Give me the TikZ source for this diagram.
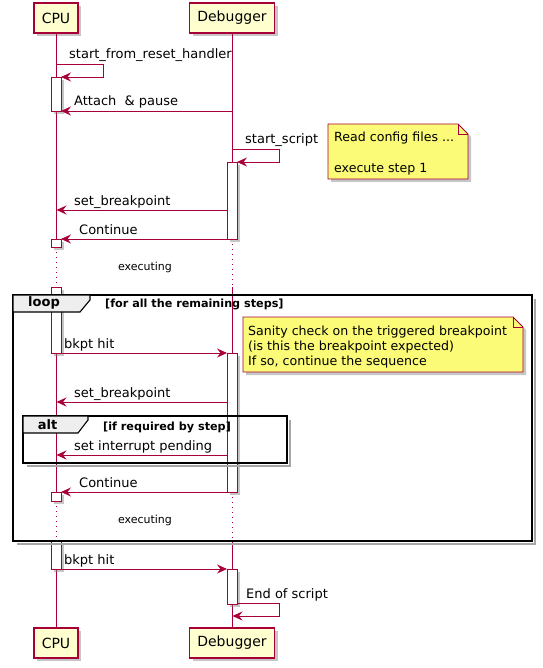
\documentclass[tikz,border=0pt]{standalone}
\usepackage{fontspec}
\setmainfont{DejaVu Sans}
\usetikzlibrary{positioning, arrows.meta, shadows, calc}
\definecolor{umlred}{HTML}{A80036}
\definecolor{partfill}{HTML}{FEFECE}
\definecolor{notefill}{HTML}{FBFB77}
\definecolor{grpfill}{HTML}{EEEEEE}

\tikzset{
	shade3/.style={drop shadow={shadow xshift=3pt, shadow yshift=-3pt, fill=black!50, opacity=0.45}},
	part/.style={draw=umlred, fill=partfill, line width=1.2pt, minimum height=30pt, inner sep=0pt, font=\fontsize{14}{16}\selectfont, shade3},
	life/.style={draw=umlred, line width=0.8pt},
	idle/.style={life, dash pattern=on 1pt off 4pt},
	act/.style={draw=umlred, fill=white, line width=0.8pt, shade3},
	msg/.style={draw=umlred, line width=0.8pt, -{Stealth[length=10pt, width=9pt, inset=3.5pt]}},
	lbl/.style={anchor=base west, inner sep=0pt, font=\fontsize{13}{15}\selectfont},
	notetxt/.style={lbl, font=\fontsize{12.6}{15}\selectfont},
	delay/.style={inner sep=0pt, font=\fontsize{11}{13}\selectfont},
	grp/.style={draw=black, line width=1.4pt},
	grptab/.style={draw=black, fill=grpfill, line width=1.1pt},
	grpname/.style={inner sep=0pt, font=\bfseries\fontsize{13}{15}\selectfont},
	guard/.style={anchor=base west, inner sep=0pt, font=\bfseries\fontsize{11.2}{13}\selectfont},
	notebox/.style={draw=umlred, fill=notefill, line width=0.8pt, shade3}
}

\begin{document}
\begin{tikzpicture}[x=1pt, y=-1pt]
	\useasboundingbox (0,0) rectangle (542,668);

	% participants
	\node[part, minimum width=44pt] (cpuTop) at (56,18) {CPU};
	\node[part, minimum width=85pt] (dbgTop) at (232,18) {Debugger};
	\node[part, minimum width=44pt] (cpuBot) at (56,643) {CPU};
	\node[part, minimum width=85pt] (dbgBot) at (232,643) {Debugger};

	% lifelines, dotted while waiting
	\coordinate (cpuW1) at (56,247); \coordinate (cpuR1) at (56,287);
	\coordinate (cpuW2) at (56,501); \coordinate (cpuR2) at (56,541);
	\coordinate (dbgW1) at (232,239); \coordinate (dbgR1) at (232,287);
	\coordinate (dbgW2) at (232,492); \coordinate (dbgR2) at (232,541);
	\foreach \p in {cpu, dbg}
	{
		\draw[life] (\p Top) -- (\p W1);
		\draw[idle] (\p W1) -- (\p R1);
		\draw[life] (\p R1) -- (\p W2);
		\draw[idle] (\p W2) -- (\p R2);
		\draw[life] (\p R2) -- (\p Bot);
	}
	\node[delay] (wait1) at (145,267) {executing};
	\node[delay] (wait2) at (145,520) {executing};

	% activations
	\foreach \x/\ya/\yb in {51/77/111, 51/239/247, 51/287/353, 51/492/501, 51/541/569,
		227/162/239, 227/353/492, 227/569/604}
		\draw[act] (\x,\ya) rectangle (\x+10,\yb);

	% loop frame
	\draw[black!35, line width=1.4pt] (17,544) -- (535,544) -- (535,299);
	\draw[grp] (13,295) rectangle (532,541);
	\draw[grptab] (13,295) -- (90,295) -- (90,300) -- (80,312) -- (13,312) -- cycle;
	\node[grpname] (loopName) at (44,303) {loop};
	\node[guard] (loopGuard) at (105,307) {[for all the remaining steps]};

	% alt frame
	\draw[black!35, line width=1.4pt] (27,466) -- (290,466) -- (290,420);
	\draw[grp] (23,416) rectangle (287,463);
	\draw[grptab] (23,416) -- (88,416) -- (88,420) -- (78,433) -- (23,433) -- cycle;
	\node[grpname] (altName) at (47.5,425) {alt};
	\node[guard] (altGuard) at (103,430) {[if required by step]};

	% messages
	\coordinate (rstS) at (56,64);     \coordinate (rstE) at (61,77);
	\coordinate (attS) at (232,111);   \coordinate (attE) at (61,111);
	\coordinate (scrS) at (232,149);   \coordinate (scrE) at (237,162);
	\coordinate (bp1S) at (227,210);   \coordinate (bp1E) at (56.5,210);
	\coordinate (ct1S) at (227,239);   \coordinate (ct1E) at (61,239);
	\coordinate (hit1S) at (61,353);   \coordinate (hit1E) at (227,353);
	\coordinate (bp2S) at (227,402);   \coordinate (bp2E) at (56.5,402);
	\coordinate (irqS) at (227,455);   \coordinate (irqE) at (56.5,455);
	\coordinate (ct2S) at (227,492);   \coordinate (ct2E) at (61,492);
	\coordinate (hit2S) at (61,569);   \coordinate (hit2E) at (227,569);
	\coordinate (endS) at (237,603);   \coordinate (endE) at (232.5,616);

	\draw[msg] (rstS) -- ++(47,0) |- (rstE);
	\node[lbl] (rstTxt) at (69,59) {start\_from\_reset\_handler};
	\draw[msg] (attS) -- (attE);
	\node[lbl] (attTxt) at (74,106) {Attach\ \ \& pause};
	\draw[msg] (scrS) -- ++(47,0) |- (scrE);
	\node[lbl] (scrTxt) at (245,144) {start\_script};
	\draw[msg] (bp1S) -- (bp1E);
	\node[lbl] (bp1Txt) at (74,205) {set\_breakpoint};
	\draw[msg] (ct1S) -- (ct1E);
	\node[lbl] (ct1Txt) at (79,234) {Continue};
	\draw[msg] (hit1S) -- (hit1E);
	\node[lbl] (hit1Txt) at (64,348) {bkpt hit};
	\draw[msg] (bp2S) -- (bp2E);
	\node[lbl] (bp2Txt) at (74,397) {set\_breakpoint};
	\draw[msg] (irqS) -- (irqE);
	\node[lbl] (irqTxt) at (74,450) {set interrupt pending};
	\draw[msg] (ct2S) -- (ct2E);
	\node[lbl] (ct2Txt) at (79,487) {Continue};
	\draw[msg] (hit2S) -- (hit2E);
	\node[lbl] (hit2Txt) at (64,564) {bkpt hit};
	\draw[msg] (endS) -- (279,603) |- (endE);
	\node[lbl] (endTxt) at (246,598) {End of script};

	% notes
	\filldraw[notebox] (328,124) -- (458,124) -- (468,134) -- (468,179) -- (328,179) -- cycle;
	\draw[draw=umlred, line width=0.8pt] (458,124) -- (458,134) -- (468,134);
	\node[notetxt] (noteA1) at (334,142) {Read config files ...};
	\node[notetxt] (noteA2) at (334,173) {execute step 1};

	\filldraw[notebox] (243,317) -- (513,317) -- (523,327) -- (523,372) -- (243,372) -- cycle;
	\draw[draw=umlred, line width=0.8pt] (513,317) -- (513,327) -- (523,327);
	\foreach \t [count=\i] in {Sanity check on the triggered breakpoint, (is this the breakpoint expected), {If so, continue the sequence}}
		\node[notetxt] (noteB\i) at (248, 320+15*\i) {\t};
\end{tikzpicture}
\end{document}
